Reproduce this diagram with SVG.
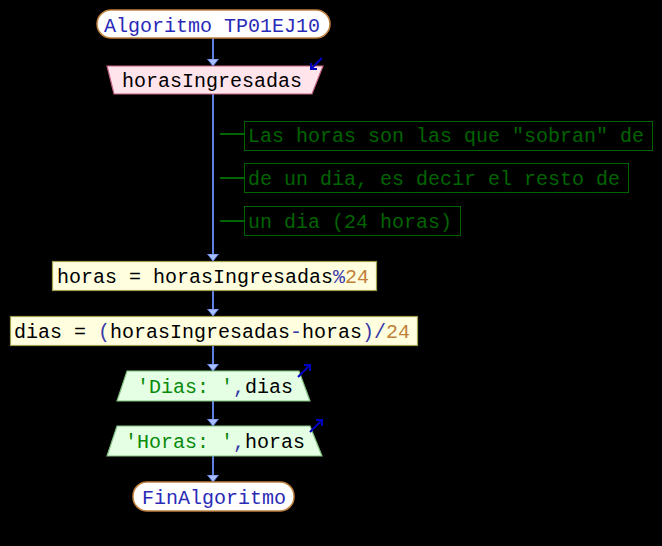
<svg xmlns="http://www.w3.org/2000/svg" width="662" height="546" viewBox="0 0 662 546">
<style>
text{font-family:"Liberation Mono","DejaVu Sans Mono",monospace;font-size:20px;fill:#000000}
.kw{fill:#2a2ab8}
.str{fill:#0a8a0a}
.num{fill:#c0803a}
.op{fill:#3838a8}
.cm{fill:#006400}
.term{fill:#ffffff;stroke:#c08040;stroke-width:1.5}
.inp{fill:#ffe4ec;stroke:#c06080;stroke-width:1.2}
.asg{fill:#ffffe0;stroke:#a0a050;stroke-width:1.2}
.out{fill:#e4ffe4;stroke:#80c080;stroke-width:1.2}
.cbox{fill:none;stroke:#006400;stroke-width:1}
.flow{stroke:#6080e0;stroke-width:2;fill:none}
.clink{stroke:#006400;stroke-width:2}
.io{stroke:#0000c0;stroke-width:2;fill:none}
</style>
<defs>
<marker id="ah" markerWidth="8" markerHeight="12" refX="7.5" refY="6" orient="auto" markerUnits="userSpaceOnUse" viewBox="0 0 8 12">
<path d="M0.5,0.5 L7.5,6 L0.5,11.5 Z" fill="#a8c0ff" stroke="#6080e0" stroke-width="1"/>
</marker>
</defs>
<rect width="662" height="546" fill="#000000"/>
<g id="connectors">
<line class="flow" x1="213" y1="38" x2="213" y2="66" marker-end="url(#ah)"/>
<line class="flow" x1="213" y1="94" x2="213" y2="261" marker-end="url(#ah)"/>
<line class="flow" x1="213" y1="290" x2="213" y2="316" marker-end="url(#ah)"/>
<line class="flow" x1="213" y1="346" x2="213" y2="371" marker-end="url(#ah)"/>
<line class="flow" x1="213" y1="401" x2="213" y2="426" marker-end="url(#ah)"/>
<line class="flow" x1="213" y1="456" x2="213" y2="482" marker-end="url(#ah)"/>
<line class="clink" x1="220" y1="134" x2="244" y2="134"/>
<line class="clink" x1="220" y1="178" x2="244" y2="178"/>
<line class="clink" x1="220" y1="221" x2="244" y2="221"/>
</g>
<g id="start">
<rect class="term" x="97" y="10" width="233" height="28" rx="14" ry="14"/>
<text x="104" y="32" class="kw">Algoritmo TP01EJ10</text>
</g>
<g id="input">
<polygon class="inp" points="107,66 323,66 312,94 114,94"/>
<text x="122" y="87">horasIngresadas</text>
<path class="io" d="M322,58 L311,69 M311,63 L311,69 L317,69"/>
</g>
<g id="comment1">
<rect class="cbox" x="244.5" y="121.5" width="408" height="29"/>
<text x="248" y="142" class="cm">Las horas son las que "sobran" de</text>
</g>
<g id="comment2">
<rect class="cbox" x="244.5" y="163.5" width="384" height="29"/>
<text x="248" y="185" class="cm">de un dia, es decir el resto de</text>
</g>
<g id="comment3">
<rect class="cbox" x="244.5" y="206.5" width="216" height="29"/>
<text x="248" y="228" class="cm">un dia (24 horas)</text>
</g>
<g id="assign1">
<rect class="asg" x="52.5" y="261.5" width="324" height="29"/>
<text x="57" y="283">horas = horasIngresadas<tspan class="op">%</tspan><tspan class="num">24</tspan></text>
</g>
<g id="assign2">
<rect class="asg" x="10.5" y="316.5" width="407" height="29"/>
<text x="14" y="338">dias = <tspan class="op">(</tspan>horasIngresadas<tspan class="op">-</tspan>horas<tspan class="op">)/</tspan><tspan class="num">24</tspan></text>
</g>
<g id="output1">
<polygon class="out" points="127,371 299,371 310,401 117,401"/>
<text x="137" y="393"><tspan class="str">'Dias: '</tspan><tspan class="op">,</tspan>dias</text>
<path class="io" d="M298,377 L310,365 M304,365 L310,365 L310,371"/>
</g>
<g id="output2">
<polygon class="out" points="117,426 310,426 322,456 107,456"/>
<text x="125" y="448"><tspan class="str">'Horas: '</tspan><tspan class="op">,</tspan>horas</text>
<path class="io" d="M310,432 L322,420 M316,420 L322,420 L322,426"/>
</g>
<g id="end">
<rect class="term" x="133" y="482" width="161" height="29" rx="14" ry="14"/>
<text x="142" y="504" class="kw">FinAlgoritmo</text>
</g>
</svg>
